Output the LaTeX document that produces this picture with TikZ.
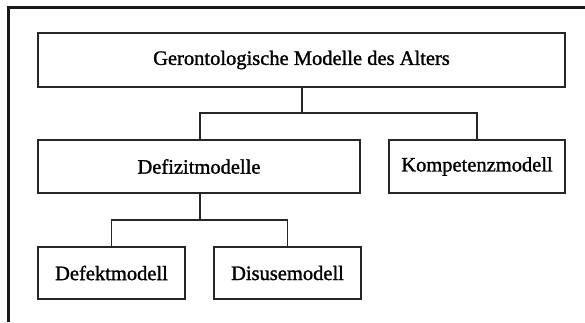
\documentclass[tikz,border=0pt]{standalone}
\usepackage{fontspec}
\setmainfont{Liberation Serif}[FakeBold=1.3]
\begin{document}
\begin{tikzpicture}[x=1pt,y=-1pt,
  mbox/.style={draw=black!85,line width=1.1pt,rectangle,inner sep=0pt,font=\fontsize{20.5}{24}\selectfont},
  conn/.style={draw=black!85,line width=1.1pt}]
\useasboundingbox (0,0) rectangle (585,322);
\fill[white] (0,0) rectangle (585,322);
\draw[line width=3pt,black!90] (8.5,322) -- (8.5,7.5) -- (585,7.5);
\node[mbox,minimum width=527pt,minimum height=54pt] (top) at (301.5,60) {Gerontologische Modelle des Alters};
\node[mbox,minimum width=322pt,minimum height=53pt] (def) at (199,166.5) {Defizitmodelle};
\node[mbox,minimum width=176pt,minimum height=53pt] (komp) at (477,166.5) {Kompetenzmodell};
\node[mbox,minimum width=147pt,minimum height=52pt] (defekt) at (111.5,273) {Defektmodell};
\node[mbox,minimum width=147pt,minimum height=52pt] (dis) at (287.5,273) {Disusemodell};
\coordinate (j1) at (302,113);
\coordinate (j2) at (200,220);
\draw[conn] (top.south -| j1) -- (j1);
\draw[conn] (def.north -| j2) |- (j1) -| (komp.north);
\draw[conn] (def.south -| j2) -- (j2);
\draw[conn] (defekt.north) |- (j2) -| (dis.north);
\end{tikzpicture}
\end{document}
